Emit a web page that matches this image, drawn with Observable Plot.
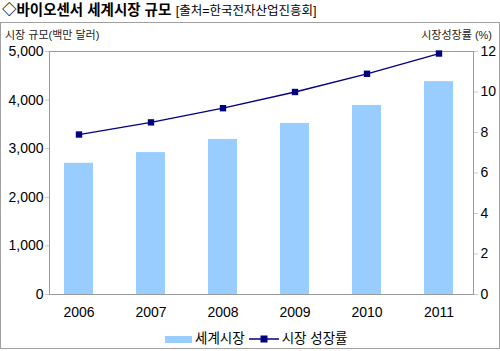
<!DOCTYPE html>
<html><head><meta charset="utf-8">
<script src="https://cdn.jsdelivr.net/npm/d3@7"></script>
<script src="https://cdn.jsdelivr.net/npm/@observablehq/plot@0.6"></script>
<style>
body{margin:0;background:#fff;}
#wrap{position:relative;width:500px;height:351px;overflow:hidden;background:#fff;font-family:"Liberation Sans",Arial,"Noto Sans CJK KR",sans-serif;color:#000;}
#title{position:absolute;left:2px;top:1px;white-space:nowrap;line-height:18px;}
#title b{font-size:14.5px;font-weight:bold;}
#title span{font-size:12.5px;}
#box{position:absolute;left:0;top:22px;width:498px;height:325px;border:1px solid #a0a0a0;}
#chart{position:absolute;left:0;top:0;}
.atitle{position:absolute;font-size:11px;white-space:nowrap;color:#222;line-height:12px;}
#legend{position:absolute;top:331px;left:165px;display:flex;align-items:center;font-size:13.5px;line-height:16px;white-space:nowrap;}
#legend .sw{width:27px;height:7px;background:#99ccff;margin-right:3px;}
</style></head>
<body>
<div id="wrap">
  <div id="box"></div>
  <div id="title"><b>◇바이오센서 세계시장 규모</b> <span>[출처=한국전자산업진흥회]</span></div>
  <div id="chart"></div>
  <div class="atitle" id="lt" style="left:5px;top:29px;">시장 규모(백만 달러)</div>
  <div class="atitle" id="rt" style="right:8px;top:29px;">시장성장률 (%)</div>
  <div id="legend">
    <div class="sw"></div><span>세계시장</span>
    <svg width="30" height="10" style="margin:0 3px 0 4px"><line x1="0" y1="5" x2="30" y2="5" stroke="#000080" stroke-width="1.5"/><rect x="11.5" y="1.5" width="7" height="7" fill="#000080"/></svg>
    <span>시장 성장률</span>
  </div>
</div>
<script>
const years = ["2006", "2007", "2008", "2009", "2010", "2011"];
const marketSize = [2700, 2920, 3190, 3520, 3890, 4380];
const growthRate = [7.9, 8.5, 9.2, 10.0, 10.9, 11.9];
const leftTicks = [0, 1000, 2000, 3000, 4000, 5000];
const rightTicks = [0, 2, 4, 6, 8, 10, 12];
const leftMax = 5000;
const rightMax = 12;

const k = leftMax / rightMax;
const data = years.map((y, i) => ({year: y, size: marketSize[i], rate: growthRate[i]}));
const font = '"Liberation Sans", Arial, "Noto Sans CJK KR", sans-serif';

const chart = Plot.plot({
  width: 500,
  height: 322,
  marginTop: 51,
  marginBottom: 28,
  marginLeft: 49,
  marginRight: 27,
  style: {fontFamily: font, fontSize: "14px", background: "transparent", color: "#000"},
  x: {domain: years, range: [41, 476], paddingInner: 0.6, paddingOuter: 0.3, label: null},
  y: {domain: [0, leftMax], label: null},
  marks: [
    Plot.barY(data, {x: "year", y: "size", fill: "#99ccff"}),
    Plot.frame({stroke: "#9a9a9a"}),
    Plot.line(data, {x: "year", y: d => d.rate * k, stroke: "#000080", strokeWidth: 1.3}),
    Plot.dot(data, {x: "year", y: d => d.rate * k, symbol: "square", r: 3.6, fill: "#000080", stroke: "none"}),
    Plot.axisY(leftTicks, {anchor: "left", tickFormat: d3.format(","), tickSize: 4, tickPadding: 2, stroke: "#c8c8c8", fill: "#000", label: null, fontSize: 14}),
    Plot.axisY(rightTicks.map(t => t * k), {anchor: "right", tickFormat: d => String(Math.round(d / k)), tickSize: 4, tickPadding: 3, stroke: "#c8c8c8", fill: "#000", label: null, fontSize: 14}),
    Plot.axisX({tickSize: 0, tickPadding: 13, fill: "#000", label: null, fontSize: 14})
  ]
});
document.getElementById("chart").appendChild(chart);
</script>
</body></html>
